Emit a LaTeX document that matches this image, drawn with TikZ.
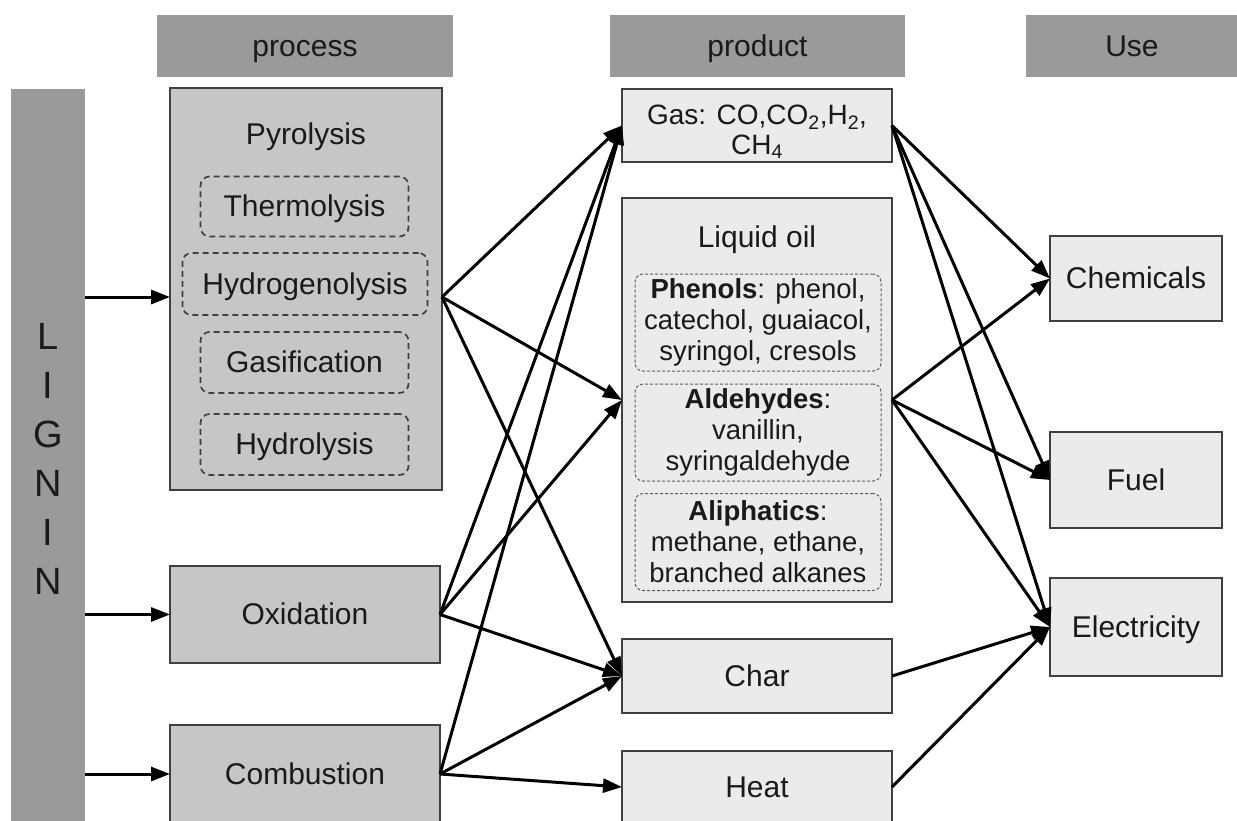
\documentclass[tikz,border=0pt]{standalone}
\usepackage{fontspec}
\setmainfont{Liberation Sans}
\usetikzlibrary{arrows.meta}
\definecolor{hdr}{HTML}{9A9A9A}
\definecolor{proc}{HTML}{C6C6C6}
\definecolor{prod}{HTML}{EBEBEB}
\definecolor{edgec}{HTML}{404040}
\definecolor{txt}{HTML}{1A1A1A}
\begin{document}
\begin{tikzpicture}[x=1pt,y=-1pt,
 every node/.style={inner sep=0pt, outer sep=0pt, text=txt, font=\fontsize{30}{34}\selectfont},
 one/.style={text height=27.2pt, text depth=6.4pt},
 hdrbox/.style={one, fill=hdr, minimum height=62pt},
 procbox/.style={one, fill=proc, draw=edgec, line width=1.7pt},
 prodbox/.style={fill=prod, draw=edgec, line width=1.7pt},
 subbox/.style={one, draw=edgec, dash pattern=on 6pt off 4pt, line width=1.7pt, rounded corners=9pt, minimum width=208pt, minimum height=60pt},
 oilbox/.style={draw=edgec!85, dash pattern=on 3pt off 2pt, line width=1pt, rounded corners=8pt, minimum width=246pt, minimum height=97pt, align=center, font=\fontsize{27.5}{31}\selectfont},
 arr/.style={draw=black, line width=3pt, -{Triangle[length=19pt,width=14pt]}},
]
\useasboundingbox (0,0) rectangle (1237,820);

% headers
\node[hdrbox, minimum width=296pt] (hproc) at (305,46) {process};
\node[hdrbox, minimum width=295pt] (hprod) at (757.5,46) {product};
\node[hdrbox, minimum width=212pt] (huse) at (1132,46) {Use};

% lignin bar
\node[fill=hdr, minimum width=74pt, minimum height=740pt, align=center, font=\fontsize{38}{49}\selectfont] (lignin) at (48,459) {L\\I\\G\\N\\I\\N};

% process column
\node[procbox, minimum width=272pt, minimum height=402pt] (pyro) at (306,289) {};
\node[one] (pyrtitle) at (306,134) {Pyrolysis};
\node[subbox] (thermo) at (304.5,206.5) {Thermolysis};
\node[subbox, minimum width=245pt, minimum height=62pt] (hydro) at (305,284) {Hydrogenolysis};
\node[subbox, minimum height=61pt] (gasif) at (304.5,362.5) {Gasification};
\node[subbox, minimum height=61pt] (hydrol) at (304.5,444.5) {Hydrolysis};
\node[procbox, minimum width=270pt, minimum height=97pt] (oxid) at (305,614.5) {Oxidation};
\node[procbox, minimum width=270pt, minimum height=98pt] (comb) at (305,774) {Combustion};

% product column
\node[prodbox, minimum width=270pt, minimum height=73pt, align=center, font=\fontsize{28}{33}\selectfont] (gas) at (757,125.5) {\rule{0pt}{32pt}Gas: CO,CO\textsubscript{2},H\textsubscript{2},\\[-3pt]CH\textsubscript{4}};
\node[prodbox, minimum width=270pt, minimum height=404pt] (oil) at (757,400) {};
\node[one] (oiltitle) at (757,237.5) {Liquid oil};
\node[oilbox] (phen) at (758,322.5) {\textbf{Phenols}: phenol,\\catechol, guaiacol,\\syringol, cresols};
\node[oilbox] (ald) at (758,432.5) {\textbf{Aldehydes}:\\vanillin,\\syringaldehyde};
\node[oilbox] (ali) at (758,542) {\textbf{Aliphatics}:\\methane, ethane,\\branched alkanes};
\node[prodbox, one, minimum width=270pt, minimum height=74pt] (char) at (757,676) {Char};
\node[prodbox, one, minimum width=270pt, minimum height=72pt] (heat) at (757,787) {Heat};

% use column
\node[prodbox, one, minimum width=172pt, minimum height=85pt] (chem) at (1136,278.5) {Chemicals};
\node[prodbox, one, minimum width=172pt, minimum height=96pt] (fuel) at (1136,480) {Fuel};
\node[prodbox, one, minimum width=172pt, minimum height=98pt] (elec) at (1136,627) {Electricity};

% connection points on the pyrolysis box
\coordinate (pin) at (pyro.west |- 0,297);
\coordinate (pout) at (pyro.east |- 0,297);

% lignin to processes
\draw[arr] (lignin.east |- pin) -- (pin);
\draw[arr] (lignin.east |- oxid.west) -- (oxid.west);
\draw[arr] (lignin.east |- comb.west) -- (comb.west);

% processes to products
\foreach \t in {gas,oil,char} \draw[arr] (pout) -- (\t.west);
\foreach \t in {gas,oil,char} \draw[arr] (oxid.east) -- (\t.west);
\foreach \t in {gas,char,heat} \draw[arr] (comb.east) -- (\t.west);

% products to uses
\foreach \t in {chem,fuel,elec} \draw[arr] (gas.east) -- (\t.west);
\foreach \t in {chem,fuel,elec} \draw[arr] (oil.east) -- (\t.west);
\draw[arr] (char.east) -- (elec.west);
\draw[arr] (heat.east) -- (elec.west);
\end{tikzpicture}
\end{document}
